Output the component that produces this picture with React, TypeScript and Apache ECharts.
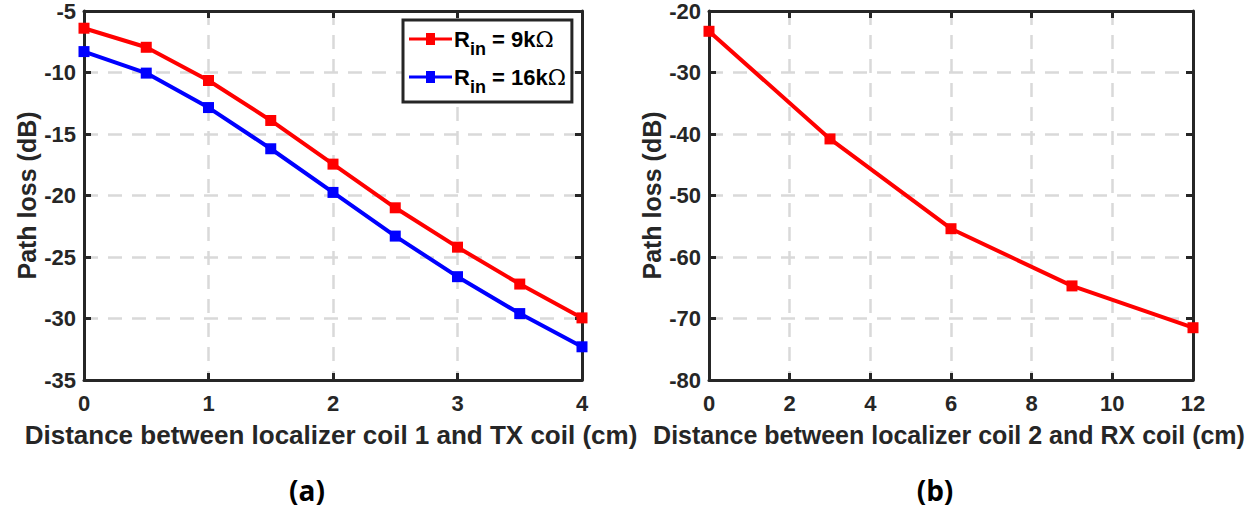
import React, { useEffect, useRef } from "react";
import * as echarts from "echarts";

const distA = [0, 0.5, 1, 1.5, 2, 2.5, 3, 3.5, 4];
const rin9k = [-6.4, -7.95, -10.65, -13.9, -17.45, -21.0, -24.2, -27.2, -29.95];
const rin16k = [-8.3, -10.05, -12.85, -16.2, -19.75, -23.3, -26.6, -29.6, -32.3];
const distB = [0, 3, 6, 9, 12];
const lossB = [-23.3, -40.8, -55.4, -64.7, -71.5];

const axisColor = "#262626";
const font = "'Liberation Sans', Arial, sans-serif";

function mkX(gridIndex: number, min: number, max: number, interval: number, name: string, bottom: boolean, nameSize: number) {
  return {
    type: "value",
    gridIndex,
    min,
    max,
    interval,
    position: bottom ? "bottom" : "top",
    name: bottom ? name : "",
    nameLocation: "middle",
    nameGap: 42,
    nameTextStyle: {
      color: axisColor,
      fontSize: nameSize,
      fontWeight: "bold",
      fontFamily: font,
      padding: [0, 0, 0, -4],
    },
    axisLine: { show: true, onZero: false, lineStyle: { color: axisColor, width: 3 } },
    axisTick: { show: true, inside: true, length: 7, lineStyle: { color: axisColor, width: 3 } },
    axisLabel: { show: bottom, color: axisColor, fontSize: 22, fontWeight: "bold", fontFamily: font, margin: 12 },
    splitLine: bottom
      ? { show: true, lineStyle: { color: "#d9d9d9", width: 2.5, type: [14, 10] } }
      : { show: false },
  };
}

function mkY(gridIndex: number, min: number, max: number, interval: number, left: boolean) {
  return {
    type: "value",
    gridIndex,
    min,
    max,
    interval,
    position: left ? "left" : "right",
    name: left ? "Path loss (dB)" : "",
    nameLocation: "middle",
    nameGap: 45,
    nameTextStyle: { color: axisColor, fontSize: 25, fontWeight: "bold", fontFamily: font },
    axisLine: { show: true, onZero: false, lineStyle: { color: axisColor, width: 3 } },
    axisTick: { show: true, inside: true, length: 7, lineStyle: { color: axisColor, width: 3 } },
    axisLabel: { show: left, color: axisColor, fontSize: 22, fontWeight: "bold", fontFamily: font, margin: 8 },
    splitLine: left
      ? { show: true, lineStyle: { color: "#d9d9d9", width: 2.5, type: [14, 10] } }
      : { show: false },
  };
}

export default function App() {
  const ref = useRef<HTMLDivElement>(null);
  useEffect(() => {
    document.body.style.margin = "0";
    const chart = echarts.init(ref.current!, undefined, { renderer: "svg" });
    const lineStyle = (c: string) => ({ color: c, width: 4 });
    const legendRich = {
      r: { fontSize: 22, fontWeight: "bold", fontFamily: font, color: "#000" },
      s: { fontSize: 18, fontWeight: "bold", fontFamily: font, color: "#000", padding: [20, 0, 0, 0] },
      o: { fontSize: 22, fontFamily: "'DejaVu Serif', serif", color: "#000" },
    };
    const icon = "path://M0,5.4H17V1H26V5.4H43V8.6H26V13H17V8.6H0Z";
    chart.setOption({
      animation: false,
      backgroundColor: "#fff",
      grid: [
        { left: 84, top: 11, width: 498, height: 369 },
        { left: 709, top: 11, width: 484, height: 369 },
      ],
      xAxis: [
        mkX(0, 0, 4, 1, "Distance between localizer coil 1 and TX coil (cm)", true, 26),
        mkX(0, 0, 4, 1, "", false, 26),
        mkX(1, 0, 12, 2, "Distance between localizer coil 2 and RX coil (cm)", true, 25),
        mkX(1, 0, 12, 2, "", false, 25),
      ],
      yAxis: [
        mkY(0, -35, -5, 5, true),
        mkY(0, -35, -5, 5, false),
        mkY(1, -80, -20, 10, true),
        mkY(1, -80, -20, 10, false),
      ],
      legend: {
        left: 403,
        top: 20,
        orient: "vertical",
        backgroundColor: "#fff",
        borderColor: axisColor,
        borderWidth: 3,
        borderRadius: 0,
        padding: [8, 6, 6, 6],
        itemGap: 8,
        itemWidth: 43,
        itemHeight: 14,
        data: [
          { name: "R9", icon },
          { name: "R16", icon },
        ],
        formatter: (n: string) =>
          n === "R9" ? "{r|R}{s|in}{r| = 9k}{o|Ω}" : "{r|R}{s|in}{r| = 16k}{o|Ω}",
        textStyle: { rich: legendRich, padding: [0, 0, 0, -3] },
      },
      series: [
        {
          name: "R9",
          type: "line",
          xAxisIndex: 0,
          yAxisIndex: 0,
          data: distA.map((x, i) => [x, rin9k[i]]),
          color: "#ff0000",
          lineStyle: lineStyle("#ff0000"),
          symbol: "rect",
          symbolSize: 11,
          itemStyle: { color: "#ff0000" },
          clip: false,
          z: 3,
        },
        {
          name: "R16",
          type: "line",
          xAxisIndex: 0,
          yAxisIndex: 0,
          data: distA.map((x, i) => [x, rin16k[i]]),
          color: "#0000ff",
          lineStyle: lineStyle("#0000ff"),
          symbol: "rect",
          symbolSize: 11,
          itemStyle: { color: "#0000ff" },
          clip: false,
          z: 3,
        },
        {
          name: "B",
          type: "line",
          xAxisIndex: 2,
          yAxisIndex: 2,
          data: distB.map((x, i) => [x, lossB[i]]),
          lineStyle: lineStyle("#ff0000"),
          symbol: "rect",
          symbolSize: 11,
          itemStyle: { color: "#ff0000" },
          clip: false,
          z: 3,
        },
      ],
      graphic: [
        {
          type: "text",
          x: 307,
          y: 490,
          style: {
            text: "(a)",
            fontSize: 28,
            fontWeight: "bold",
            fontFamily: "'Open Sans', sans-serif",
            fill: "#000",
            align: "center",
            verticalAlign: "middle",
          },
        },
        {
          type: "text",
          x: 935,
          y: 490,
          style: {
            text: "(b)",
            fontSize: 28,
            fontWeight: "bold",
            fontFamily: "'Open Sans', sans-serif",
            fill: "#000",
            align: "center",
            verticalAlign: "middle",
          },
        },
      ],
    });
    return () => chart.dispose();
  }, []);
  return <div ref={ref} style={{ width: 1260, height: 515 }} />;
}
